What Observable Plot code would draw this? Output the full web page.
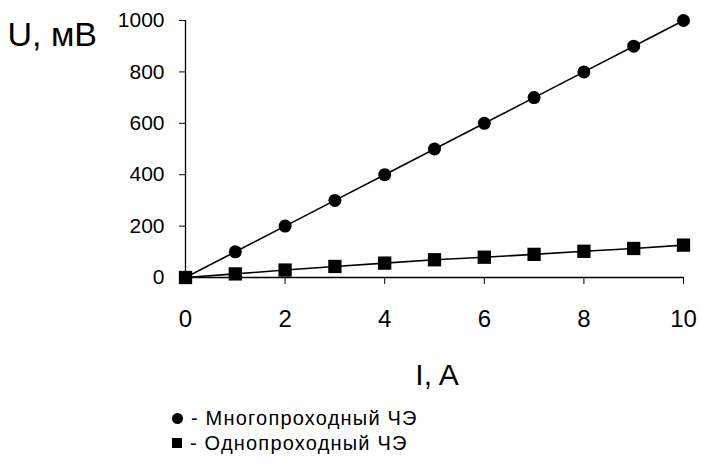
<!DOCTYPE html>
<html><head><meta charset="utf-8">
<script src="https://cdn.jsdelivr.net/npm/d3@7"></script>
<script src="https://cdn.jsdelivr.net/npm/@observablehq/plot@0.6"></script>
<style>
html,body{margin:0;padding:0;background:#fff;}
#wrap{position:relative;width:701px;height:467px;overflow:hidden;font-family:"Liberation Sans",Arial,sans-serif;color:#000;}
#chart{position:absolute;left:0;top:0;}
.leg{position:absolute;left:172px;height:24px;display:flex;align-items:center;font-size:20px;letter-spacing:1.2px;white-space:nowrap;}
.mk{display:inline-block;width:10px;height:10px;background:#000;margin-right:8px;}
.mk.c{border-radius:50%;width:11px;height:11px;}
</style></head><body>
<div id="wrap"><div id="chart"></div></div>
<script>
const currentA   = [0, 1, 2, 3, 4, 5, 6, 7, 8, 9, 10];
const multiPass  = [0, 100, 200, 300, 400, 500, 600, 700, 800, 900, 1000];
const singlePass = [0, 14, 29, 43, 56, 69, 79, 90, 102, 113, 126];
const xTicks = [0, 2, 4, 6, 8, 10];
const yTicks = [0, 200, 400, 600, 800, 1000];
const seriesNames = ["Многопроходный ЧЭ", "Однопроходный ЧЭ"];
const yLabel = "U, мВ";
const xLabel = "I, A";

const multi = currentA.map((I, i) => ({I, U: multiPass[i]}));
const single = currentA.map((I, i) => ({I, U: singlePass[i]}));

const plot = Plot.plot({
  width: 701, height: 400,
  marginLeft: 185, marginRight: 18, marginTop: 20, marginBottom: 123,
  style: {fontFamily: "Liberation Sans, Arial, sans-serif", background: "transparent", color: "#000", overflow: "visible"},
  x: {domain: [0, 10]},
  y: {domain: [0, 1000]},
  marks: [
    Plot.axisX({ticks: xTicks, tickSize: 7, tickPadding: 25, fontSize: 24, tickFormat: d3.format("d"), label: null}),
    Plot.axisY({ticks: yTicks, tickSize: 6, tickPadding: 15, fontSize: 21, letterSpacing: 2, tickFormat: d3.format("d"), label: null}),
    Plot.ruleY([0], {stroke: "#000", strokeWidth: 1.3}),
    Plot.ruleX([0], {stroke: "#000", strokeWidth: 1.3}),
    Plot.line(multi, {x: "I", y: "U", stroke: "#000", strokeWidth: 1.6}),
    Plot.line(single, {x: "I", y: "U", stroke: "#000", strokeWidth: 1.6}),
    Plot.dot(multi, {x: "I", y: "U", r: 6.5, fill: "#000", symbol: "circle"}),
    Plot.dot(single, {x: "I", y: "U", r: 7.5, fill: "#000", symbol: "square"}),
    Plot.text([yLabel], {frameAnchor: "top-left", text: d => d, textAnchor: "start", lineAnchor: "middle", dx: -178, dy: 15, fontSize: 34}),
    Plot.text([xLabel], {frameAnchor: "bottom", text: d => d, textAnchor: "middle", lineAnchor: "middle", dx: 2.5, dy: 98, fontSize: 30})
  ]
});
document.getElementById("chart").appendChild(plot);

const wrap = document.getElementById("wrap");
const legTops = [406, 431];
seriesNames.forEach((name, i) => {
  const row = document.createElement("div");
  row.className = "leg";
  row.style.top = legTops[i] + "px";
  const mk = document.createElement("span");
  mk.className = "mk" + (i === 0 ? " c" : "");
  row.appendChild(mk);
  row.appendChild(document.createTextNode("- " + name));
  wrap.appendChild(row);
});
</script>
</body></html>
